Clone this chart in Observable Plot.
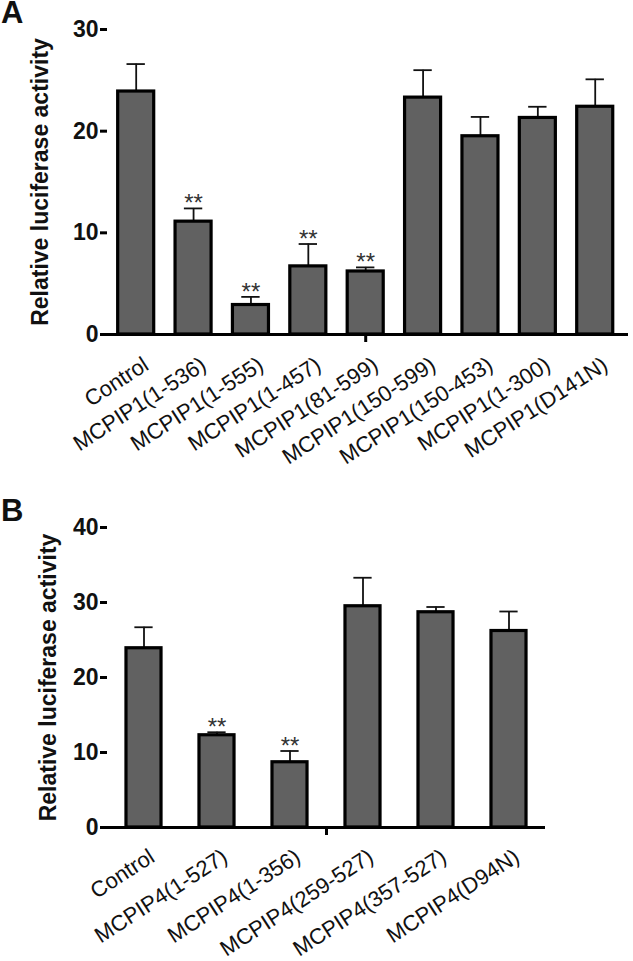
<!DOCTYPE html>
<html>
<head>
<meta charset="utf-8">
<script src="https://cdn.jsdelivr.net/npm/d3@7"></script>
<script src="https://cdn.jsdelivr.net/npm/@observablehq/plot@0.6"></script>
<style>
  html, body { margin: 0; padding: 0; background: #fff; }
  #wrap { position: relative; width: 633px; height: 961px; overflow: hidden; font-family: "Liberation Sans", Arial, sans-serif; }
  .panel { position: relative; width: 633px; }
  .letter { position: absolute; left: 1px; font-weight: bold; font-size: 31px; line-height: 30px; color: #111; }
  svg { display: block; }
  g[aria-label="category labels"] text { letter-spacing: 1.2px; }
  g[aria-label="significance"] text { letter-spacing: 1.5px; }
</style>
</head>
<body>
<div id="wrap"></div>
<script>
// ---------- Panel A data ----------
const catsA = ["Control", "MCPIP1(1-536)", "MCPIP1(1-555)", "MCPIP1(1-457)", "MCPIP1(81-599)",
               "MCPIP1(150-599)", "MCPIP1(150-453)", "MCPIP1(1-300)", "MCPIP1(D141N)"];
const meanA = [23.9, 11.1, 2.9, 6.7, 6.2, 23.3, 19.5, 21.3, 22.4];
const errA  = [2.7, 1.3, 0.8, 2.2, 0.4, 2.7, 1.9, 1.1, 2.7];
const sigA  = [false, true, true, true, true, false, false, false, false];
const ticksA = [0, 10, 20, 30];

// ---------- Panel B data ----------
const catsB = ["Control", "MCPIP4(1-527)", "MCPIP4(1-356)", "MCPIP4(259-527)", "MCPIP4(357-527)", "MCPIP4(D94N)"];
const meanB = [23.9, 12.3, 8.7, 29.5, 28.7, 26.2];
const errB  = [2.8, 0.4, 1.5, 3.8, 0.7, 2.6];
const sigB  = [false, true, true, false, false, false];
const ticksB = [0, 10, 20, 30, 40];

const yLabel = "Relative luciferase activity";

function panel(cats, mean, err, sig, yTicks, cfg) {
  const data = cats.map((c, i) => ({i, cat: c, mean: mean[i], err: err[i], upper: mean[i] + err[i], sig: sig[i]}));
  const n = cats.length;
  return Plot.plot({
    width: 633,
    height: cfg.height,
    marginTop: cfg.marginTop,
    marginBottom: cfg.marginBottom,
    marginLeft: 107,
    marginRight: cfg.marginRight,
    style: {fontFamily: "'Liberation Sans', Arial, sans-serif", fontSize: "22px", fontWeight: "bold", color: "#111", background: "#fff"},
    x: {type: "linear", domain: [-0.5, n - 0.5 + cfg.xPad]},
    y: {domain: [0, yTicks[yTicks.length - 1]]},
    marks: [
      // error bars (upper only)
      Plot.ruleX(data, {x: "i", y1: "mean", y2: "upper", stroke: "#111", strokeWidth: 1.8}),
      Plot.ruleY(data, {y: "upper", x1: d => d.i - cfg.capHalf, x2: d => d.i + cfg.capHalf, stroke: "#111", strokeWidth: 1.8}),
      // bars
      Plot.rectY(data, {x1: d => d.i - cfg.barHalf, x2: d => d.i + cfg.barHalf, y1: 0, y2: "mean", fill: "#616161", stroke: "#000", strokeWidth: 3.2}),
      // significance
      Plot.text(data.filter(d => d.sig), {x: "i", y: "upper", text: () => "**", lineAnchor: "bottom", dy: 3, fill: "#333", fontWeight: "normal", fontSize: 24, ariaLabel: "significance"}),
      // axes
      Plot.ruleY([0], {stroke: "#000", strokeWidth: 3}),
      Plot.axisY({ticks: yTicks, tickSize: 7, tickPadding: 2, line: true, strokeWidth: 3, stroke: "#000",
                  label: yLabel, labelArrow: "none", labelAnchor: "center", labelOffset: cfg.labelOffset, fontSize: 23, fontWeight: "bold"}),
      Plot.axisX({ticks: [(n - 1) / 2], tickSize: 8, tickFormat: () => "", strokeWidth: 3, stroke: "#000", label: null}),
      // category labels
      Plot.text(data, {x: "i", text: "cat", frameAnchor: "bottom", rotate: -33, textAnchor: "end", lineAnchor: "bottom",
                       dx: cfg.labelDx, dy: cfg.labelDy, fontWeight: "normal", fontSize: 22, fill: "#111", ariaLabel: "category labels"})
    ]
  });
}

const wrap = document.getElementById("wrap");

const pA = document.createElement("div");
pA.className = "panel";
pA.appendChild(panel(catsA, meanA, errA, sigA, ticksA, {
  height: 480, marginTop: 29, marginBottom: 146, marginRight: 5, xPad: 0.08,
  barHalf: 0.314, capHalf: 0.16, labelOffset: 76, labelDx: 14, labelDy: 34
}));
const lA = document.createElement("div");
lA.className = "letter"; lA.style.top = "-2px"; lA.textContent = "A";
pA.appendChild(lA);
wrap.appendChild(pA);

const pB = document.createElement("div");
pB.className = "panel";
pB.appendChild(panel(catsB, meanB, errB, sigB, ticksB, {
  height: 481, marginTop: 47, marginBottom: 134, marginRight: 88, xPad: 0,
  barHalf: 0.24, capHalf: 0.125, labelOffset: 68, labelDx: 12, labelDy: 33
}));
const lB = document.createElement("div");
lB.className = "letter"; lB.style.top = "16px"; lB.textContent = "B";
pB.appendChild(lB);
wrap.appendChild(pB);
</script>
</body>
</html>
